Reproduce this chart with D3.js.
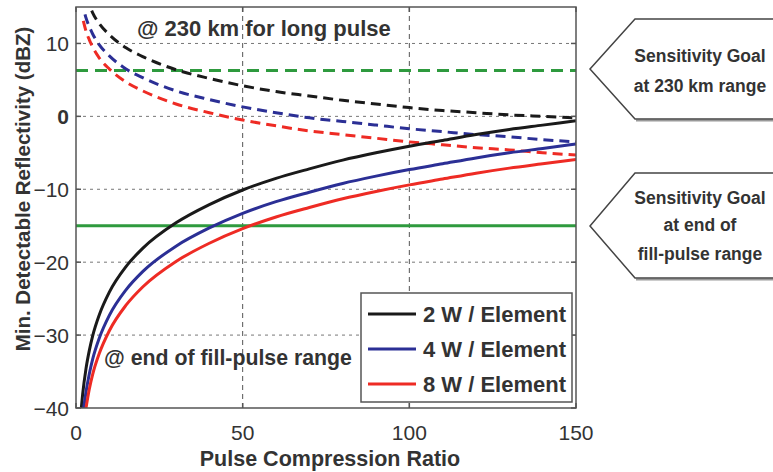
<!DOCTYPE html>
<html><head><meta charset="utf-8">
<script src="https://cdn.jsdelivr.net/npm/d3@7"></script>
<style>body{margin:0;background:#fff}svg{display:block}text{font-family:"Liberation Sans",Arial,sans-serif}</style>
</head><body>
<svg id="c" width="773" height="472"></svg>
<script>
// ---- data ----
const blackSolidN = [1.6,2,3,4,5,7,10,15,20,30,40,50,60,70,80,90,100,110,120,130,140,150];
const blackSolidV = [-40,-38.1,-34.6,-32.1,-30.1,-27.2,-24.1,-20.6,-18.1,-14.6,-12.1,-10.1,-8.5,-7.2,-6.0,-5.0,-4.1,-3.3,-2.5,-1.8,-1.2,-0.6];
const blueSolidN = [2.3,3,4,5,7,10,15,20,30,40,50,60,70,80,90,100,110,120,130,140,150];
const blueSolidV = [-40,-37.8,-35.3,-33.3,-30.4,-27.3,-23.8,-21.3,-17.8,-15.3,-13.3,-11.7,-10.4,-9.2,-8.2,-7.3,-6.5,-5.7,-5.0,-4.4,-3.8];
const redSolidN = [3,4,5,7,10,15,20,30,40,50,60,70,80,90,100,110,120,130,140,150];
const redSolidV = [-40,-37.4,-35.4,-32.5,-29.4,-25.9,-23.4,-19.9,-17.4,-15.4,-13.8,-12.5,-11.3,-10.3,-9.4,-8.6,-7.8,-7.1,-6.5,-5.9];
const blackDashN = [4.7,5,7,10,15,20,30,40,50,60,70,80,90,100,110,120,130,140,150];
const blackDashV = [14.5,14.2,12.7,11.2,9.4,8.2,6.4,5.2,4.2,3.4,2.8,2.2,1.7,1.2,0.8,0.5,0.2,0.0,-0.2];
const blueDashN = [2.7,3,4,5,7,10,15,20,30,40,50,60,70,80,90,100,110,120,130,140,150];
const blueDashV = [14.0,13.5,12.3,11.3,9.8,8.3,6.5,5.3,3.5,2.3,1.3,0.5,-0.2,-0.7,-1.2,-1.7,-2.1,-2.5,-2.8,-3.2,-3.5];
const redDashN = [2.2,3,4,5,7,10,15,20,30,40,50,60,70,80,90,100,110,120,130,140,150];
const redDashV = [13.1,11.7,10.5,9.5,8.0,6.5,4.7,3.5,1.7,0.5,-0.5,-1.3,-2.0,-2.5,-3.0,-3.5,-3.9,-4.3,-4.6,-5.0,-5.3];
const goalLongPulse = 6.3;
const goalFillPulse = -15;
const xTicks = [0,50,100,150];
const yTicks = [-40,-30,-20,-10,0,10];
const legendLabels = ["2 W / Element","4 W / Element","8 W / Element"];

const svg = d3.select("#c");
const L=76,R=576,T=7,B=408;
const x = d3.scaleLinear().domain([0,150]).range([L,R]);
const y = d3.scaleLinear().domain([-40,15]).range([B,T]);

svg.append("defs").append("clipPath").attr("id","clip")
  .append("rect").attr("x",L).attr("y",T).attr("width",R-L).attr("height",B-T);

// grid
const grid = svg.append("g");
yTicks.filter(v=>v>-40).forEach(v=>{
  grid.append("line").attr("x1",L).attr("x2",R).attr("y1",y(v)).attr("y2",y(v))
    .attr("stroke","#777").attr("stroke-width",1).attr("stroke-dasharray","3,4");
});
[50,100].forEach(v=>{
  grid.append("line").attr("x1",x(v)).attr("x2",x(v)).attr("y1",T).attr("y2",B)
    .attr("stroke","#555").attr("stroke-width",1).attr("stroke-dasharray","5,4");
});

// goal lines
const GREEN="#2e9a3e";
svg.append("line").attr("x1",L).attr("x2",R).attr("y1",y(goalLongPulse)).attr("y2",y(goalLongPulse))
  .attr("stroke",GREEN).attr("stroke-width",3).attr("stroke-dasharray","12,7");
svg.append("line").attr("x1",L).attr("x2",R).attr("y1",y(goalFillPulse)).attr("y2",y(goalFillPulse))
  .attr("stroke",GREEN).attr("stroke-width",3);

// curves
const line = d3.line().x(d=>x(d[0])).y(d=>y(d[1])).curve(d3.curveMonotoneX);
const series = [
  [blackDashN,blackDashV,"#1a1a1a",true],
  [blueDashN,blueDashV,"#2b2f95",true],
  [redDashN,redDashV,"#ee2b24",true],
  [blackSolidN,blackSolidV,"#1a1a1a",false],
  [blueSolidN,blueSolidV,"#2b2f95",false],
  [redSolidN,redSolidV,"#ee2b24",false]
];
const cg = svg.append("g").attr("clip-path","url(#clip)");
series.forEach(([n,v,c,dash])=>{
  cg.append("path").datum(d3.zip(n,v)).attr("d",line).attr("fill","none")
    .attr("stroke",c).attr("stroke-width",3)
    .attr("stroke-dasharray",dash?"10,6":null);
});

// frame and ticks
svg.append("rect").attr("x",L).attr("y",T).attr("width",R-L).attr("height",B-T)
  .attr("fill","none").attr("stroke","#555").attr("stroke-width",1.5);
const tk = svg.append("g").attr("stroke","#555").attr("stroke-width",1.5);
yTicks.forEach(v=>{
  tk.append("line").attr("x1",L).attr("x2",L+5).attr("y1",y(v)).attr("y2",y(v));
  tk.append("line").attr("x1",R).attr("x2",R-5).attr("y1",y(v)).attr("y2",y(v));
});
xTicks.forEach(v=>{
  tk.append("line").attr("x1",x(v)).attr("x2",x(v)).attr("y1",B).attr("y2",B-5);
  tk.append("line").attr("x1",x(v)).attr("x2",x(v)).attr("y1",T).attr("y2",T+5);
});

// tick labels
yTicks.forEach(v=>{
  svg.append("text").attr("x",L-7).attr("y",y(v)).attr("dy","0.36em")
    .attr("text-anchor","end").attr("font-size",21).attr("fill","#333")
    .attr("font-weight",v===0?"bold":"normal")
    .text(v<0?"\u2212"+Math.abs(v):String(v));
});
xTicks.forEach(v=>{
  svg.append("text").attr("x",x(v)).attr("y",440).attr("text-anchor","middle")
    .attr("font-size",21).attr("fill","#333").text(v);
});

// axis titles
svg.append("text").attr("x",330).attr("y",466).attr("text-anchor","middle")
  .attr("font-size",21.5).attr("font-weight","bold").attr("fill","#333").text("Pulse Compression Ratio");
svg.append("text").attr("transform","translate(30,189) rotate(-90)").attr("text-anchor","middle")
  .attr("font-size",20.5).attr("font-weight","bold").attr("fill","#333").text("Min. Detectable Reflectivity (dBZ)");

// annotations
svg.append("text").attr("x",137).attr("y",36).attr("font-size",22).attr("font-weight","bold")
  .attr("fill","#333").text("@ 230 km for long pulse");
svg.append("text").attr("x",104).attr("y",365).attr("font-size",21.3).attr("font-weight","bold")
  .attr("fill","#333").text("@ end of fill-pulse range");

// legend
const lg = svg.append("g");
lg.append("rect").attr("x",361).attr("y",293).attr("width",211).attr("height",109)
  .attr("fill","#fff").attr("stroke","#555").attr("stroke-width",1.5);
const lc = ["#1a1a1a","#2b2f95","#ee2b24"];
const ly = d3.scalePoint().domain(legendLabels).range([314,384]);
legendLabels.forEach((t,i)=>{
  lg.append("line").attr("x1",368).attr("x2",416).attr("y1",ly(t)).attr("y2",ly(t))
    .attr("stroke",lc[i]).attr("stroke-width",3);
  lg.append("text").attr("x",423).attr("y",ly(t)).attr("dy","0.36em").attr("font-size",22)
    .attr("font-weight","bold").attr("fill","#333").text(t);
});

// callouts
function callout(top,mid,bot,lines,ys){
  const g = svg.append("g");
  g.append("path").attr("d",`M775,${bot+1.5} L636,${bot+1.5}`).attr("stroke","#999").attr("stroke-width",2).attr("fill","none");
  g.append("path").attr("d",`M775,${top} L635,${top} L590,${mid} L635,${bot} L775,${bot}`)
    .attr("fill","#fff").attr("stroke","#444").attr("stroke-width",1.5);
  lines.forEach((t,i)=>{
    g.append("text").attr("x",700).attr("y",ys[i]).attr("dy","0.36em").attr("text-anchor","middle")
      .attr("font-size",17.5).attr("font-weight","bold").attr("fill","#333").text(t);
  });
}
callout(19,69,119,["Sensitivity Goal","at 230 km range"],[56,86]);
callout(173,226,278,["Sensitivity Goal","at end of","fill-pulse range"],[198,225,254]);
</script>
</body></html>
